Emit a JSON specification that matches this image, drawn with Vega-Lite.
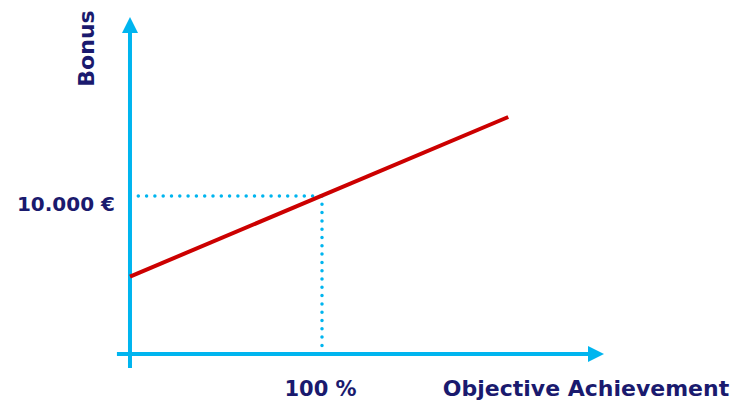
{
  "$schema": "https://vega.github.io/schema/vega-lite/v6.json",
  "width": 740,
  "height": 402,
  "padding": 0,
  "autosize": {"type": "none"},
  "background": "white",
  "config": {"view": {"stroke": null}},
  "datasets": {
    "payout": [
      {"achievement": 0, "bonus": 4900},
      {"achievement": 197, "bonus": 15000}
    ],
    "guides": [
      {"achievement": 0, "achievement2": 100, "bonus": 10000, "bonus2": 10000},
      {"achievement": 100, "achievement2": 100, "bonus": 10000, "bonus2": 100}
    ],
    "axes": [
      {"achievement": -6.8, "achievement2": 242.7, "bonus": 0, "bonus2": 0},
      {"achievement": 0, "achievement2": 0, "bonus": -886, "bonus2": 20823}
    ],
    "arrows": [
      {"achievement": 0, "bonus": 20823, "dir": "up"},
      {"achievement": 242.7, "bonus": 0, "dir": "right"}
    ],
    "yLabel": [{"achievement": 0, "bonus": 10000, "label": "10.000 €"}],
    "xLabel": [{"achievement": 100, "bonus": 0, "label": "100 %"}],
    "xTitle": [{"achievement": 242.7, "bonus": 0, "label": "Objective Achievement"}],
    "yTitle": [{"achievement": 0, "bonus": 20823, "label": "Bonus"}]
  },
  "layer": [
    {
      "data": {"name": "guides"},
      "mark": {"type": "rule", "color": "#00b5ef", "strokeWidth": 3.5, "strokeDash": [0, 8.3], "strokeCap": "round"},
      "encoding": {
        "x": {"field": "achievement", "type": "quantitative", "scale": {"domain": [-67.7, 317.7], "nice": false, "zero": false}, "axis": null},
        "x2": {"field": "achievement2"},
        "y": {"field": "bonus", "type": "quantitative", "scale": {"domain": [-3038, 22405], "nice": false, "zero": false}, "axis": null},
        "y2": {"field": "bonus2"}
      }
    },
    {
      "data": {"name": "axes"},
      "mark": {"type": "rule", "color": "#00b5ef", "strokeWidth": 4},
      "encoding": {
        "x": {"field": "achievement", "type": "quantitative", "scale": {"domain": [-67.7, 317.7], "nice": false, "zero": false}, "axis": null},
        "x2": {"field": "achievement2"},
        "y": {"field": "bonus", "type": "quantitative", "scale": {"domain": [-3038, 22405], "nice": false, "zero": false}, "axis": null},
        "y2": {"field": "bonus2"}
      }
    },
    {
      "data": {"name": "arrows"},
      "mark": {"type": "point", "filled": true, "opacity": 1, "color": "#00b5ef", "size": 256, "strokeWidth": 0},
      "encoding": {
        "x": {"field": "achievement", "type": "quantitative", "scale": {"domain": [-67.7, 317.7], "nice": false, "zero": false}, "axis": null},
        "y": {"field": "bonus", "type": "quantitative", "scale": {"domain": [-3038, 22405], "nice": false, "zero": false}, "axis": null},
        "shape": {"field": "dir", "type": "nominal", "scale": {"domain": ["up", "right"], "range": ["M0,-1L1,1L-1,1Z", "M1,0L-1,1L-1,-1Z"]}, "legend": null}
      }
    },
    {
      "data": {"name": "payout"},
      "mark": {"type": "line", "color": "#cc0000", "strokeWidth": 4},
      "encoding": {
        "x": {"field": "achievement", "type": "quantitative", "scale": {"domain": [-67.7, 317.7], "nice": false, "zero": false}, "axis": null},
        "y": {"field": "bonus", "type": "quantitative", "scale": {"domain": [-3038, 22405], "nice": false, "zero": false}, "axis": null}
      }
    },
    {
      "data": {"name": "yLabel"},
      "mark": {"type": "text", "align": "right", "baseline": "alphabetic", "dx": -15, "dy": 15, "font": "DejaVu Sans", "fontWeight": "bold", "fontSize": 20, "color": "#1a1a6e"},
      "encoding": {
        "x": {"field": "achievement", "type": "quantitative", "scale": {"domain": [-67.7, 317.7], "nice": false, "zero": false}, "axis": null},
        "y": {"field": "bonus", "type": "quantitative", "scale": {"domain": [-3038, 22405], "nice": false, "zero": false}, "axis": null},
        "text": {"field": "label"}
      }
    },
    {
      "data": {"name": "xLabel"},
      "mark": {"type": "text", "align": "center", "baseline": "alphabetic", "dx": -1.5, "dy": 42.5, "font": "DejaVu Sans", "fontWeight": "bold", "fontSize": 21, "color": "#1a1a6e"},
      "encoding": {
        "x": {"field": "achievement", "type": "quantitative", "scale": {"domain": [-67.7, 317.7], "nice": false, "zero": false}, "axis": null},
        "y": {"field": "bonus", "type": "quantitative", "scale": {"domain": [-3038, 22405], "nice": false, "zero": false}, "axis": null},
        "text": {"field": "label"}
      }
    },
    {
      "data": {"name": "xTitle"},
      "mark": {"type": "text", "align": "center", "baseline": "alphabetic", "dx": -10, "dy": 42.5, "font": "DejaVu Sans", "fontWeight": "bold", "fontSize": 22, "color": "#1a1a6e"},
      "encoding": {
        "x": {"field": "achievement", "type": "quantitative", "scale": {"domain": [-67.7, 317.7], "nice": false, "zero": false}, "axis": null},
        "y": {"field": "bonus", "type": "quantitative", "scale": {"domain": [-3038, 22405], "nice": false, "zero": false}, "axis": null},
        "text": {"field": "label"}
      }
    },
    {
      "data": {"name": "yTitle"},
      "mark": {"type": "text", "align": "center", "baseline": "alphabetic", "angle": 270, "dx": -23.5, "dy": -36, "font": "DejaVu Sans", "fontWeight": "bold", "fontSize": 22, "color": "#1a1a6e"},
      "encoding": {
        "x": {"field": "achievement", "type": "quantitative", "scale": {"domain": [-67.7, 317.7], "nice": false, "zero": false}, "axis": null},
        "y": {"field": "bonus", "type": "quantitative", "scale": {"domain": [-3038, 22405], "nice": false, "zero": false}, "axis": null},
        "text": {"field": "label"}
      }
    }
  ]
}
